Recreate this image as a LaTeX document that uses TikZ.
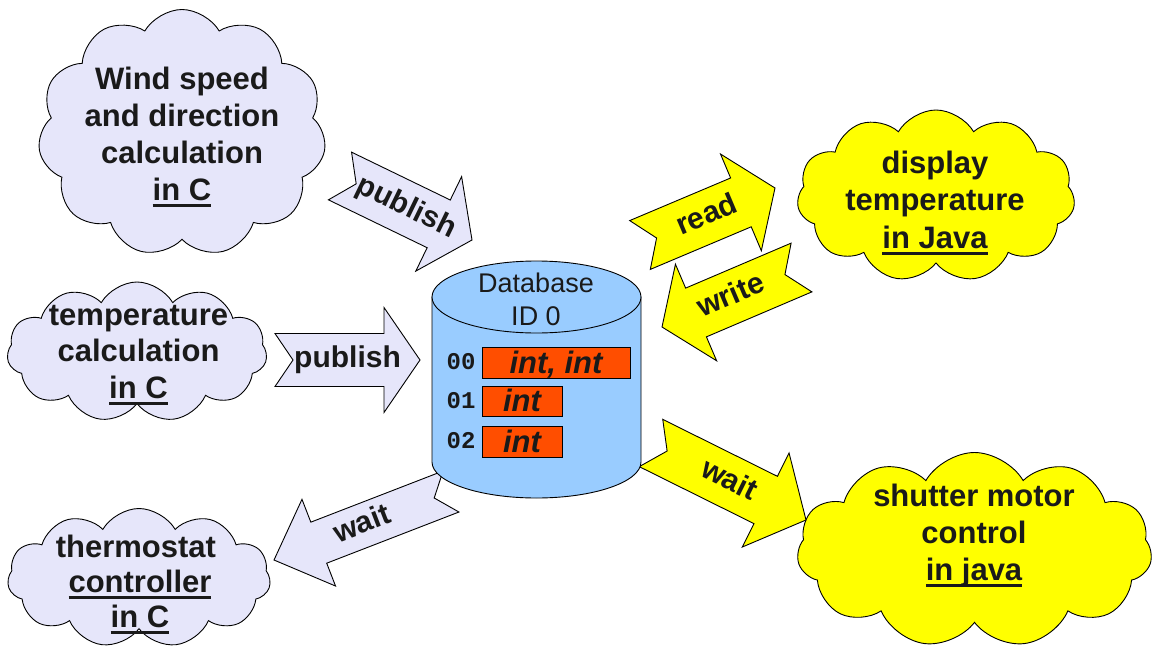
\documentclass[tikz,border=0pt]{standalone}
\usepackage{fontspec}
\setmainfont{Liberation Sans}
\newfontfamily\dbmono{Liberation Mono}
\usetikzlibrary{shapes.symbols,calc}
\definecolor{lav}{HTML}{E6E6FA}
\definecolor{yel}{HTML}{FFFF00}
\definecolor{dbblue}{HTML}{99CCFF}
\definecolor{boxred}{HTML}{FF4E00}
\definecolor{ink}{HTML}{1A1A1A}
\newsavebox{\ulbox}
\newcommand{\ulin}[1]{\sbox{\ulbox}{#1}\usebox{\ulbox}\llap{\raisebox{-7pt}[0pt][0pt]{\rule{\wd\ulbox}{3.2pt}}}}
\newcommand{\tst}{\rule[-7.5pt]{0pt}{29pt}}
\newcommand{\dst}{\rule[-6pt]{0pt}{25.5pt}}
\tikzset{
  outl/.style={draw=black, line width=0.9pt},
  cloudshape/.style={cloud, cloud puffs=11, cloud puff arc=120, cloud ignores aspect, outl, inner sep=0pt},
  cloudtxt/.style={align=center, text=ink, inner sep=0pt},
  arrowtxt/.style={text=ink, font=\fontsize{30}{36}\selectfont\bfseries, inner sep=0pt, text height=21.5pt, text depth=6.5pt},
  slotbox/.style={draw=black, line width=0.8pt, fill=boxred, inner sep=0pt, text=ink, font=\fontsize{31}{31}\selectfont\bfseries\itshape, text height=21pt, text depth=0pt},
  slotlbl/.style={text=ink, inner sep=0pt, font=\dbmono\bfseries\fontsize{24}{24}\selectfont},
}
% #1 name, #2 tail centre, #3 tip, #4 body half width, #5 head half width, #6 head length, #7 fill, #8 label
\newcommand{\barrow}[8]{%
  \coordinate (#1-t) at #2;
  \coordinate (#1-p) at #3;
  \coordinate (#1-h) at ($(#1-p)!#6pt!(#1-t)$);
  \filldraw[fill=#7, outl, line join=miter]
    ($(#1-t)!#4pt!90:(#1-p)$) -- ($(#1-t)!18pt!(#1-p)$) -- ($(#1-t)!#4pt!-90:(#1-p)$)
    -- ($(#1-h)!#4pt!-90:(#1-p)$) -- ($(#1-h)!#5pt!-90:(#1-p)$) -- (#1-p)
    -- ($(#1-h)!#5pt!90:(#1-p)$) -- ($(#1-h)!#4pt!90:(#1-p)$) -- cycle;
  \path (#1-t) -- (#1-p) node[midway, sloped, arrowtxt] (#1-lbl) {#8};
}
\begin{document}
\begin{tikzpicture}[x=1pt,y=-1pt]
\useasboundingbox (0,0) rectangle (1154,648);
\fill[white] (0,0) rectangle (1154,648);

% clouds
\node[cloudshape, fill=lav, minimum width=288, minimum height=247] (windc) at (182,133) {};
\node[cloudtxt, font=\fontsize{31}{37}\selectfont\bfseries] (windt) at (182,137.5)
  {\tst Wind speed\\and direction\\calculation\\\ulin{in C}\tst};

\node[cloudshape, fill=lav, minimum width=260, minimum height=140] (tempc) at (137,352) {};
\node[cloudtxt, font=\fontsize{31}{36.5}\selectfont\bfseries] (tempt) at (138.5,354.5)
  {\tst temperature\\calculation\\\ulin{in C}\tst};

\node[cloudshape, fill=lav, minimum width=263, minimum height=139] (thermc) at (139,578) {};
\node[cloudtxt, font=\fontsize{31}{35}\selectfont\bfseries] (thermt) at (140,585)
  {\tst thermostat\rule{8.3pt}{0pt}\\\ulin{controller}\\\ulin{in C}\tst};

\node[cloudshape, fill=yel, minimum width=278, minimum height=172] (dispc) at (936,196) {};
\node[cloudtxt, font=\fontsize{31}{37.5}\selectfont\bfseries] (dispt) at (935,203.5)
  {\tst display\\temperature\\\ulin{in Java}\tst};

\node[cloudshape, fill=yel, minimum width=355, minimum height=195] (shutc) at (974.5,550) {};
\node[cloudtxt, font=\fontsize{31}{37}\selectfont\bfseries] (shutt) at (974,536)
  {\tst shutter motor\\control\\\ulin{in java}\tst};

% block arrows
\barrow{pubA}{(340,176)}{(472,240)}{26.5}{52.5}{37}{lav}{publish}
\barrow{pubB}{(275,360)}{(420,360)}{26.5}{52.5}{36}{lav}{publish}
\barrow{read}{(640,245)}{(775,188)}{26.5}{52.5}{37}{yel}{read}
\barrow{write}{(801.5,267.5)}{(662,327)}{26.5}{52.5}{37}{yel}{write}
\barrow{waitL}{(451,491.5)}{(274,560)}{22}{46.5}{48}{lav}{wait}
\barrow{waitR}{(651,443)}{(806,520)}{26.4}{52.5}{45}{yel}{wait}

% database cylinder
\filldraw[fill=dbblue, outl] (432,297) -- (432,462)
  arc[start angle=180, end angle=0, x radius=104.5, y radius=36] -- (641,297) -- cycle;
\filldraw[fill=dbblue, outl] (536.5,297) ellipse[x radius=104.5, y radius=36];
\node[cloudtxt, font=\fontsize{27}{33}\selectfont] (dbt) at (536,301.75) {\dst Database\\ID 0\dst};

\node[slotbox, minimum width=148, minimum height=31] (s0) at (556,362.5) {int, int};
\node[slotbox, minimum width=80, minimum height=30] (s1) at (522,401) {int};
\node[slotbox, minimum width=80, minimum height=31] (s2) at (522,441.5) {int};
\node[slotlbl] (l0) at (461,362) {00};
\node[slotlbl] (l1) at (461,401) {01};
\node[slotlbl] (l2) at (461,441) {02};
\end{tikzpicture}
\end{document}
